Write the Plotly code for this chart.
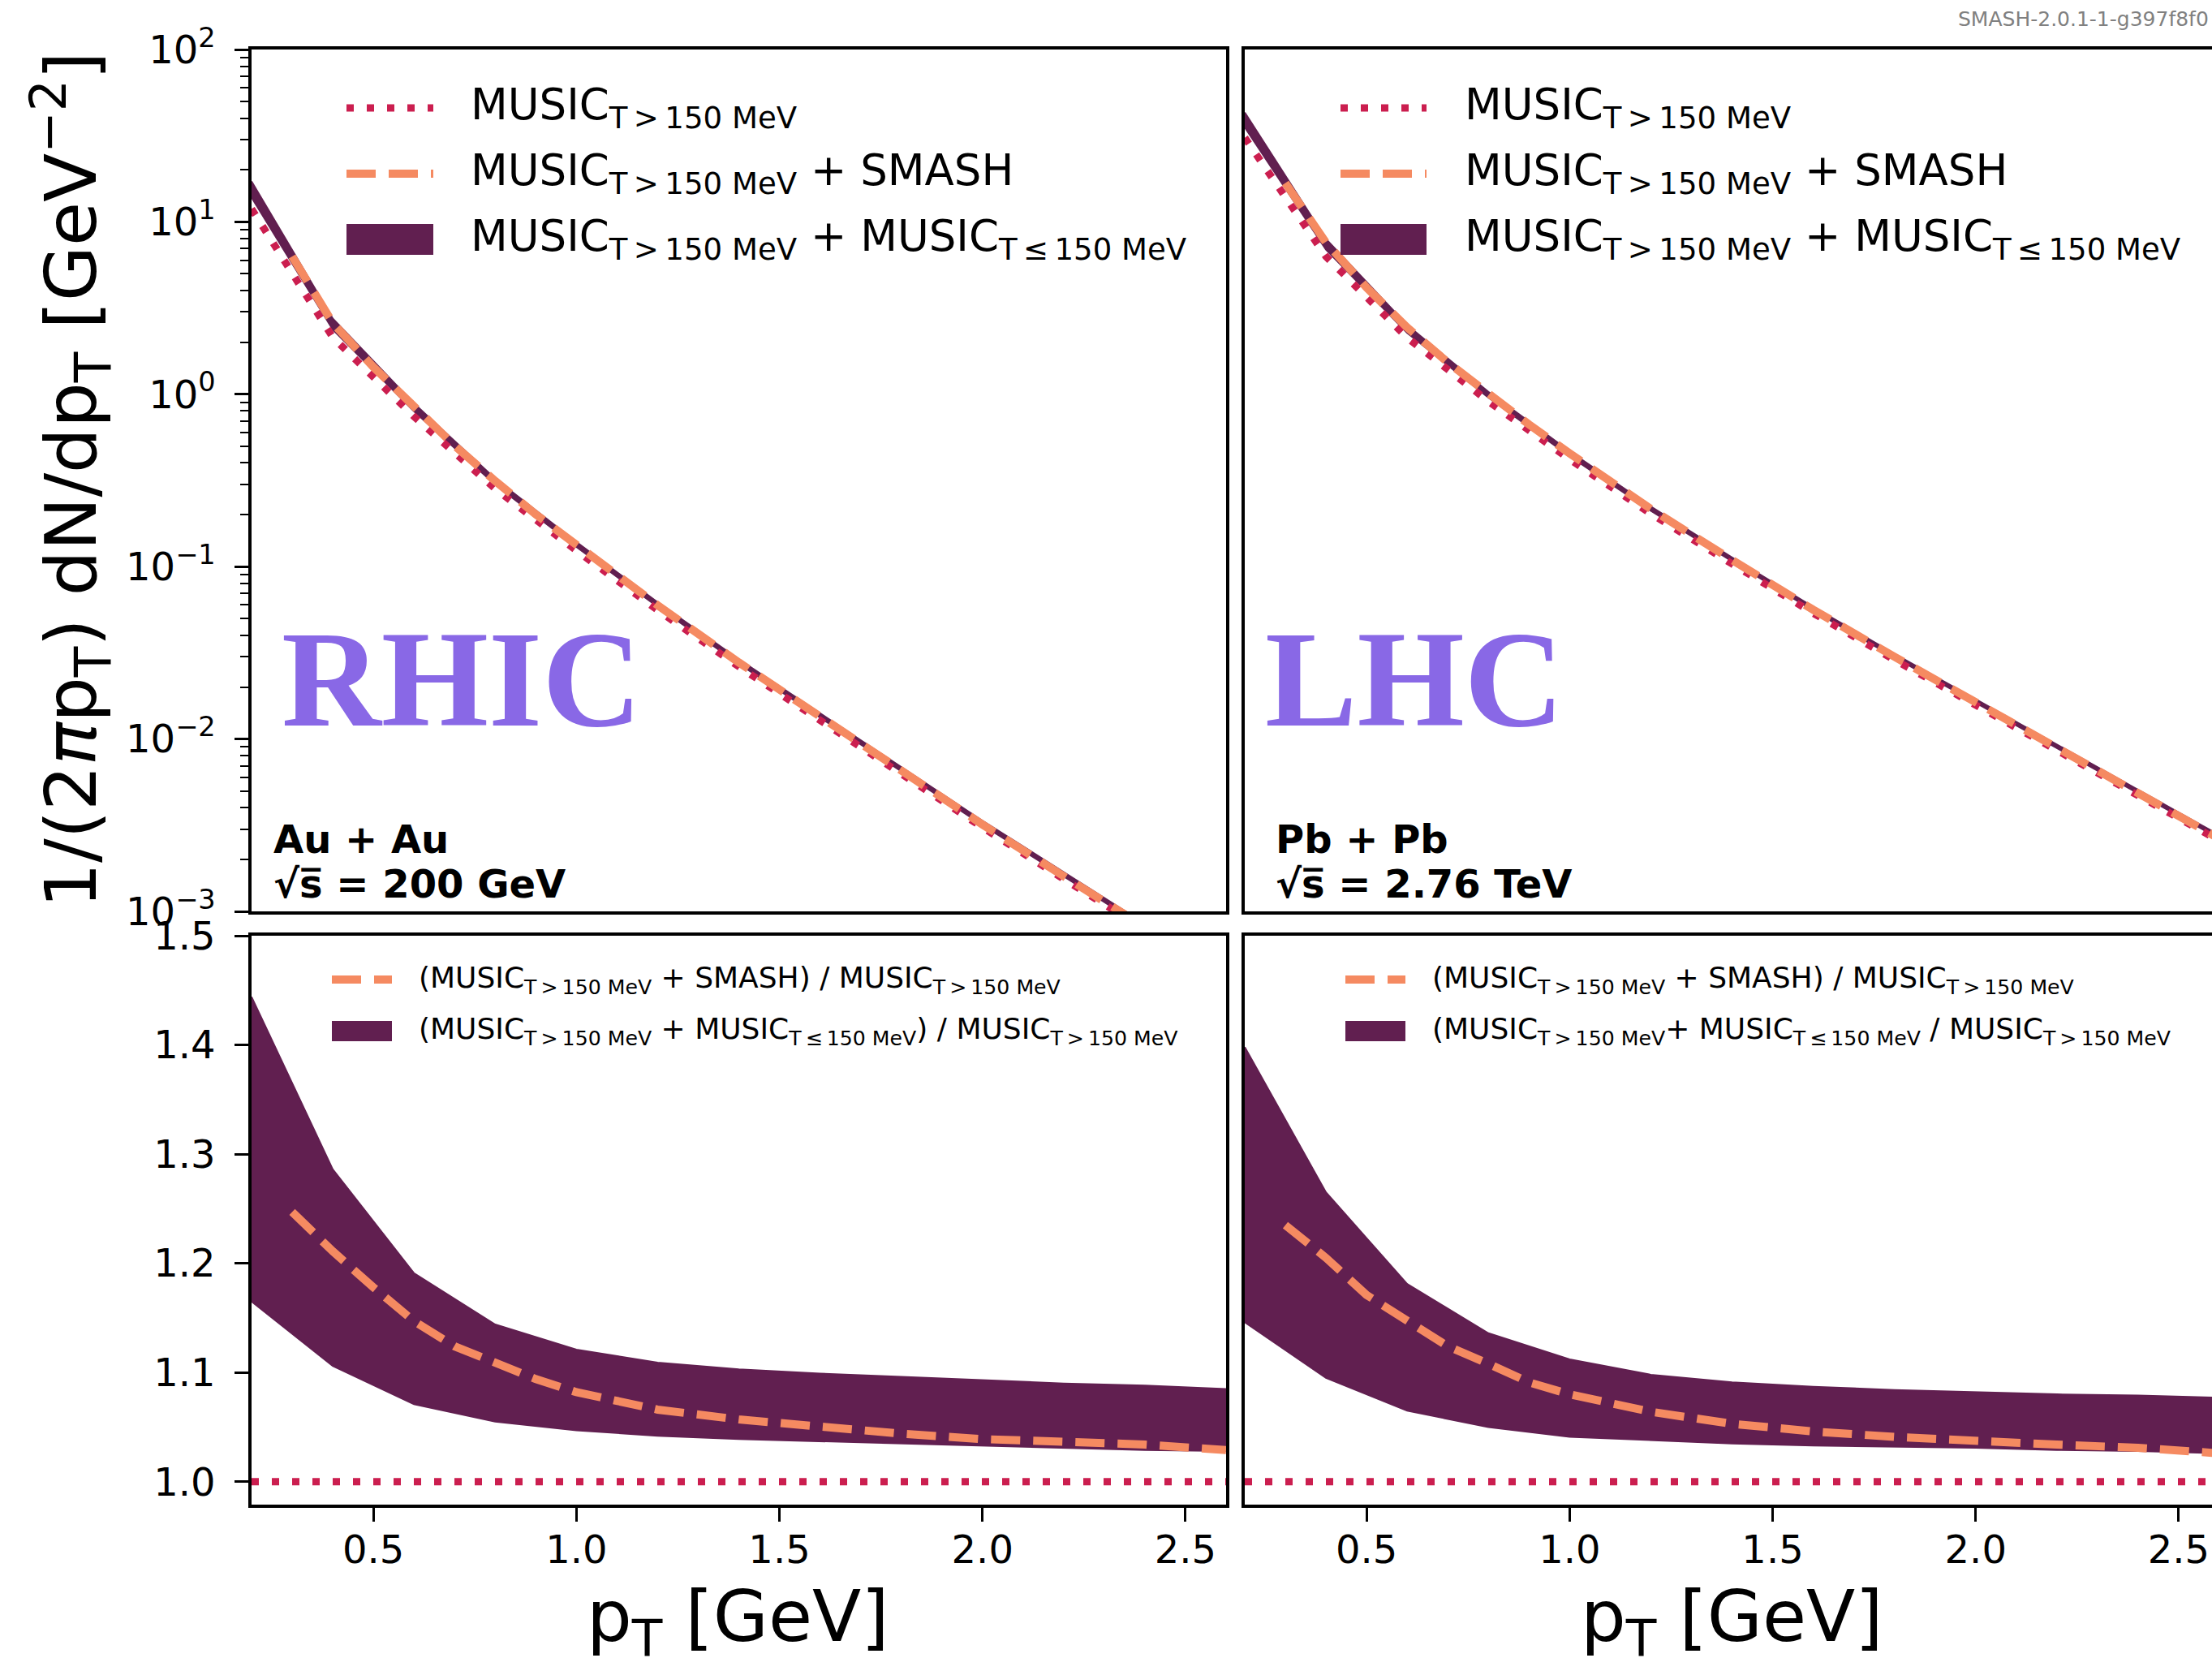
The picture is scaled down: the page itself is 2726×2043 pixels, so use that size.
import plotly.graph_objects as go

W, H = 2726, 2043

# ---------------- data ----------------
pt = [0.2, 0.4, 0.6, 0.8, 1.0, 1.2, 1.4, 1.6, 1.8, 2.0, 2.2, 2.4, 2.6]
pt_smash = [0.3, 0.4, 0.5, 0.6, 0.7, 0.8, 0.9, 1.0, 1.2, 1.4, 1.6, 1.8, 2.0, 2.2, 2.4, 2.6]

# RHIC spectra
rhic_music = [11.9, 2.14, 0.743, 0.283, 0.124, 0.056, 0.0263, 0.0128, 0.00628, 0.00307, 0.00154, 0.00078, 0.0004]
rhic_band_lo = [13.86, 2.37, 0.796, 0.299, 0.130, 0.0584, 0.0273, 0.01327, 0.0065, 0.00317, 0.00159, 0.000803, 0.000411]
rhic_band_hi = [17.18, 2.75, 0.885, 0.324, 0.139, 0.0621, 0.0290, 0.01407, 0.00688, 0.00336, 0.00168, 0.000849, 0.000434]
rhic_smash = [6.3, 2.59, 1.44, 0.852, 0.503, 0.314, 0.201, 0.134, 0.0597, 0.0278, 0.01344, 0.00656, 0.00319, 0.0016, 0.000807, 0.000412]

# RHIC ratios
rhic_ratio_music = [1.0] * 13
rhic_ratio_lo = [1.165, 1.106, 1.071, 1.055, 1.047, 1.042, 1.039, 1.037, 1.035, 1.033, 1.031, 1.029, 1.028]
rhic_ratio_hi = [1.444, 1.286, 1.191, 1.144, 1.121, 1.109, 1.103, 1.099, 1.096, 1.093, 1.090, 1.088, 1.085]
rhic_ratio_smash = [1.247, 1.211, 1.178, 1.147, 1.124, 1.108, 1.094, 1.082, 1.066, 1.057, 1.050, 1.044, 1.039, 1.036, 1.034, 1.029]

# LHC spectra
lhc_music = [30.8, 6.3, 2.13, 0.91, 0.42, 0.203, 0.1038, 0.0537, 0.0288, 0.01574, 0.00859, 0.0047, 0.00257]
lhc_band_lo = [35.3, 6.90, 2.27, 0.956, 0.437, 0.211, 0.1074, 0.0555, 0.0297, 0.01623, 0.00884, 0.00483, 0.00264]
lhc_band_hi = [43.1, 7.97, 2.52, 1.034, 0.467, 0.223, 0.1132, 0.0584, 0.0312, 0.01703, 0.00928, 0.00507, 0.00277]
lhc_smash = [16.8, 7.59, 4.16, 2.44, 1.53, 1.008, 0.668, 0.454, 0.216, 0.1093, 0.0562, 0.0300, 0.01632, 0.00888, 0.00485, 0.00264]

# LHC ratios
lhc_ratio_music = [1.0] * 13
lhc_ratio_lo = [1.146, 1.095, 1.065, 1.050, 1.041, 1.038, 1.035, 1.033, 1.032, 1.031, 1.029, 1.028, 1.026]
lhc_ratio_hi = [1.398, 1.265, 1.181, 1.136, 1.112, 1.098, 1.091, 1.087, 1.084, 1.082, 1.080, 1.079, 1.077]
lhc_ratio_smash = [1.235, 1.205, 1.171, 1.147, 1.124, 1.108, 1.091, 1.080, 1.064, 1.053, 1.046, 1.041, 1.037, 1.034, 1.031, 1.026]

# tick labels
log_tickvals = [1e-3, 1e-2, 1e-1, 1e0, 1e1, 1e2]
log_ticktext = ["10<sup>\u22123</sup>", "10<sup>\u22122</sup>", "10<sup>\u22121</sup>",
                "10<sup>0</sup>", "10<sup>1</sup>", "10<sup>2</sup>"]
ratio_tickvals = [1.0, 1.1, 1.2, 1.3, 1.4, 1.5]
ratio_ticktext = ["1.0", "1.1", "1.2", "1.3", "1.4", "1.5"]
pt_tickvals = [0.5, 1.0, 1.5, 2.0, 2.5]
pt_ticktext = ["0.5", "1.0", "1.5", "2.0", "2.5"]

# ---------------- style ----------------
C_DOT = "#CB1E4F"
C_DASH = "#F58A61"
C_BAND = "#611F50"
C_LABEL = "#8968E6"
FONT = "DejaVu Sans"
DOT = "9px,16px"
DASH = "36px,16px"


def X(px):
    return px / W


def Y(py):
    return 1 - py / H


fig = go.Figure()


def add_panel(xa, ya, x, lo, hi, xs, smash, music):
    fig.add_trace(go.Scatter(x=x, y=lo, mode="lines", line=dict(color=C_BAND, width=2),
                             xaxis=xa, yaxis=ya, showlegend=False, hoverinfo="skip"))
    fig.add_trace(go.Scatter(x=x, y=hi, mode="lines", line=dict(color=C_BAND, width=2),
                             fill="tonexty", fillcolor=C_BAND,
                             xaxis=xa, yaxis=ya, showlegend=False, hoverinfo="skip"))
    fig.add_trace(go.Scatter(x=x, y=music, mode="lines", line=dict(color=C_DOT, width=9, dash=DOT),
                             xaxis=xa, yaxis=ya, showlegend=False))
    fig.add_trace(go.Scatter(x=xs, y=smash, mode="lines", line=dict(color=C_DASH, width=10, dash=DASH),
                             xaxis=xa, yaxis=ya, showlegend=False))


add_panel("x", "y", pt, rhic_band_lo, rhic_band_hi, pt_smash, rhic_smash, rhic_music)
add_panel("x2", "y2", pt, lhc_band_lo, lhc_band_hi, pt_smash, lhc_smash, lhc_music)
add_panel("x3", "y3", pt, rhic_ratio_lo, rhic_ratio_hi, pt_smash, rhic_ratio_smash, rhic_ratio_music)
add_panel("x4", "y4", pt, lhc_ratio_lo, lhc_ratio_hi, pt_smash, lhc_ratio_smash, lhc_ratio_music)

# ---------------- layout ----------------
dom_xl = [X(310), X(1511)]
dom_xr = [X(1534), 1.0]
dom_yt = [Y(1123), Y(61)]
dom_yb = [Y(1854), Y(1153)]
x_range = [0.2, 2.6]
x_range_r = [0.2, 0.2 + 2.4 * (W - 1534) / 1201]

tickfont = dict(family=FONT, size=48, color="black")
axline = dict(showline=True, linecolor="black", linewidth=3.5, showgrid=False, zeroline=False,
              automargin=False)

minor_vals = [m * 10 ** e for e in range(-3, 2) for m in range(2, 10)]

layout = dict(
    width=W, height=H,
    margin=dict(l=0, r=0, t=0, b=0, pad=0, autoexpand=False),
    paper_bgcolor="white", plot_bgcolor="white",
    showlegend=False,
    font=dict(family=FONT, color="black"),
    xaxis=dict(domain=dom_xl, anchor="y", range=x_range, mirror=True, ticks="",
               showticklabels=False, **axline),
    yaxis=dict(domain=dom_yt, anchor="x", type="log", range=[-3, 2], mirror=True,
               tickmode="array", tickvals=log_tickvals, ticktext=log_ticktext,
               ticks="outside", ticklen=17, tickwidth=3, tickcolor="black",
               tickfont=tickfont, ticklabelstandoff=14,
               minor=dict(tickmode="array", tickvals=minor_vals, ticks="outside",
                          ticklen=10, tickwidth=2, tickcolor="black"),
               **axline),
    xaxis2=dict(domain=dom_xr, anchor="y2", range=x_range_r, mirror=True, ticks="",
                showticklabels=False, **axline),
    yaxis2=dict(domain=dom_yt, anchor="x2", type="log", range=[-3, 2], mirror=False,
                ticks="", showticklabels=False, **axline),
    xaxis3=dict(domain=dom_xl, anchor="y3", range=x_range, mirror=True,
                tickmode="array", tickvals=pt_tickvals, ticktext=pt_ticktext,
                ticks="outside", ticklen=17, tickwidth=3, tickcolor="black",
                tickfont=tickfont, **axline),
    yaxis3=dict(domain=dom_yb, anchor="x3", range=[0.979, 1.5], mirror=True,
                tickmode="array", tickvals=ratio_tickvals, ticktext=ratio_ticktext,
                ticks="outside", ticklen=17, tickwidth=3, tickcolor="black",
                tickfont=tickfont, ticklabelstandoff=14, **axline),
    xaxis4=dict(domain=dom_xr, anchor="y4", range=x_range_r, mirror=True,
                tickmode="array", tickvals=pt_tickvals, ticktext=pt_ticktext,
                ticks="outside", ticklen=17, tickwidth=3, tickcolor="black",
                tickfont=tickfont, **axline),
    yaxis4=dict(domain=dom_yb, anchor="x4", range=[0.979, 1.5], mirror=False,
                ticks="", showticklabels=False, **axline),
)
fig.update_layout(**layout)

# pull the bottom tick labels a little closer to the axis
for ax in ("xaxis3", "xaxis4"):
    try:
        fig.layout[ax].ticklabelstandoff = -6
    except Exception:
        fig.layout[ax].ticklabelstandoff = 0

# ---------------- legends (drawn as paper shapes + text) ----------------
shapes = []
annotations = []


def legend_line(x0, x1, y, color, width, dash):
    shapes.append(dict(type="line", xref="paper", yref="paper", x0=X(x0), x1=X(x1),
                       y0=Y(y), y1=Y(y), line=dict(color=color, width=width, dash=dash)))


def legend_rect(x0, x1, y0, y1):
    shapes.append(dict(type="rect", xref="paper", yref="paper", x0=X(x0), x1=X(x1),
                       y0=Y(y1), y1=Y(y0), fillcolor=C_BAND, line=dict(width=0)))


def text(x, y, s, size, xanchor="left", color="black", family=FONT, angle=0, yanchor="middle"):
    annotations.append(dict(x=X(x), y=Y(y), xref="paper", yref="paper", text=s,
                            showarrow=False, xanchor=xanchor, yanchor=yanchor, textangle=angle,
                            font=dict(family=family, size=size, color=color)))


SUB_HI = "<sub>T\u2009>\u2009150 MeV</sub>"
SUB_LO = "<sub>T\u2009\u2264\u2009150 MeV</sub>"

# top legends
for (sx0, sx1, tx) in [(427, 534, 578), (1652, 1758, 1803)]:
    legend_line(sx0, sx1, 133, C_DOT, 9, DOT)
    legend_line(sx0, sx1, 214, C_DASH, 10, DASH)
    legend_rect(sx0, sx1, 276, 314)
    text(tx, 133, "MUSIC" + SUB_HI, 53)
    text(tx, 214, "MUSIC" + SUB_HI + " + SMASH", 53)
    text(tx, 295, "MUSIC" + SUB_HI + " + MUSIC" + SUB_LO, 53)

# bottom legends
for (sx0, sx1, tx, t2) in [
    (409, 483, 514, "(MUSIC" + SUB_HI + " + MUSIC" + SUB_LO + ") / MUSIC" + SUB_HI),
    (1658, 1732, 1763, "(MUSIC" + SUB_HI + "+ MUSIC" + SUB_LO + " / MUSIC" + SUB_HI),
]:
    legend_line(sx0, sx1, 1207, C_DASH, 10, DASH)
    legend_rect(sx0, sx1, 1258, 1283)
    text(tx, 1207, "(MUSIC" + SUB_HI + " + SMASH) / MUSIC" + SUB_HI, 36)
    text(tx, 1270, t2, 36)

# collision labels
text(345, 837, "<b>RHIC</b>", 170, color=C_LABEL, family="Liberation Serif")
text(1557, 837, "<b>LHC</b>", 170, color=C_LABEL, family="Liberation Serif")
text(335, 1034, "<b>Au + Au</b>", 48)
text(335, 1089, "<b>\u221as\u0305 = 200 GeV</b>", 48)
text(1570, 1034, "<b>Pb + Pb</b>", 48)
text(1570, 1089, "<b>\u221as\u0305 = 2.76 TeV</b>", 48)

# axis titles
text(88, 592, "1/(2<i>\u03c0</i>p<sub>T</sub>) dN/dp<sub>T</sub> [GeV<sup>\u22122</sup>]", 88,
     xanchor="center", angle=-90)
text(910, 1997, "p<sub>T</sub> [GeV]", 88, xanchor="center")
text(2134, 1997, "p<sub>T</sub> [GeV]", 88, xanchor="center")

# version stamp
text(2411, 24, "SMASH-2.0.1-1-g397f8f0", 25, color="#808080")

fig.update_layout(shapes=shapes, annotations=annotations)

fig.write_html("out.html", config={"displayModeBar": False},
               post_script="document.body.style.margin='0';document.body.style.overflow='hidden';")
